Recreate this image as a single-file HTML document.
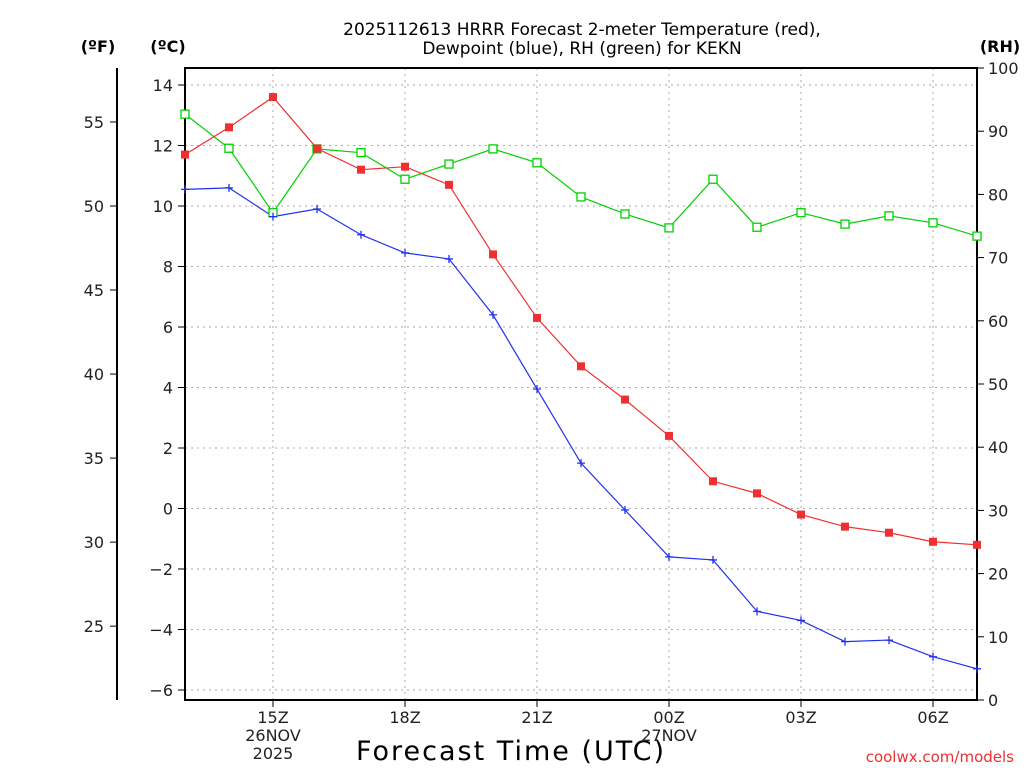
<!DOCTYPE html>
<html><head><meta charset="utf-8"><style>
html,body{margin:0;padding:0;background:#fff;width:1024px;height:768px;overflow:hidden}
svg{display:block;font-family:"DejaVu Sans","Liberation Sans",sans-serif}
</style></head><body>
<svg id="chart" width="1024" height="768">
<g>
<text x="582" y="35" text-anchor="middle" font-size="17">2025112613 HRRR Forecast 2-meter Temperature (red),</text>
<text x="582" y="54" text-anchor="middle" font-size="17">Dewpoint (blue), RH (green) for KEKN</text>
</g>
<text x="98" y="52" text-anchor="middle" font-size="16" font-weight="bold">(ºF)</text>
<text x="168" y="52" text-anchor="middle" font-size="16" font-weight="bold">(ºC)</text>
<text x="1000" y="52" text-anchor="middle" font-size="16" font-weight="bold">(RH)</text>
<text x="511" y="760" text-anchor="middle" font-size="27" letter-spacing="2">Forecast Time (UTC)</text>
<text x="1014" y="762" text-anchor="end" font-size="15" fill="#f03030">coolwx.com/models</text>
<g id="grid"></g><g id="axes"></g><g id="series"></g>
</svg>
<script>
const hours=[13,14,15,16,17,18,19,20,21,22,23,24,25,26,27,28,29,30,31];
const tempC=[11.7,12.6,13.6,11.9,11.2,11.3,10.7,8.4,6.3,4.7,3.6,2.4,0.9,0.5,-0.2,-0.6,-0.8,-1.1,-1.2];
const dewC=[10.55,10.6,9.65,9.9,9.05,8.45,8.25,6.4,3.95,1.5,-0.05,-1.6,-1.7,-3.4,-3.7,-4.4,-4.35,-4.9,-5.3];
const rh=[92.7,87.3,77.1,87.2,86.6,82.4,84.8,87.2,85.0,79.6,76.9,74.7,82.4,74.8,77.1,75.3,76.6,75.5,73.4];
const cTicks=[14,12,10,8,6,4,2,0,-2,-4,-6];
const fTicks=[55,50,45,40,35,30,25];
const rhTicks=[100,90,80,70,60,50,40,30,20,10,0];
const xTickHours=[15,18,21,24,27,30];
const xTickLabels=["15Z","18Z","21Z","00Z","03Z","06Z"];
const L=185,R=977,T=68,B=700;
const X=h=>L+(h-13)*(R-L)/18;
const YC=c=>508.5-c*30.25;
const YR=r=>B-r*(B-T)/100;
const NS='http://www.w3.org/2000/svg';
function mk(tag,at,parent,txt){const e=document.createElementNS(NS,tag);for(const k in at)e.setAttribute(k,at[k]);if(txt!==undefined)e.textContent=txt;parent.appendChild(e);return e;}
const grid=document.getElementById('grid'),axes=document.getElementById('axes'),ser=document.getElementById('series');
cTicks.forEach(c=>{const y=YC(c);
const g=mk('line',{x1:L,x2:R,y1:y,y2:y,stroke:'#aaa','stroke-dasharray':'2,4'},grid);


mk('line',{x1:L-7,x2:L,y1:y,y2:y,stroke:'#000'},axes);
const t=mk('text',{x:L-12,y:y+6,'text-anchor':'end','font-size':16,fill:'#222'},axes,c<0?'\u2212'+(-c):c);

});
xTickHours.forEach((h,i)=>{const x=X(h);
const g=mk('line',{x1:x,x2:x,y1:T,y2:B,stroke:'#aaa','stroke-dasharray':'2,4'},grid);


mk('line',{x1:x,x2:x,y1:B,y2:B+7,stroke:'#000'},axes);
const t=mk('text',{x:x,y:B+23,'text-anchor':'middle','font-size':16,fill:'#222'},axes,xTickLabels[i]);

});
mk('text',{x:X(15),y:B+41,'text-anchor':'middle','font-size':16,fill:'#222'},axes,'26NOV');
mk('text',{x:X(15),y:B+59,'text-anchor':'middle','font-size':16,fill:'#222'},axes,'2025');
mk('text',{x:X(24),y:B+41,'text-anchor':'middle','font-size':16,fill:'#222'},axes,'27NOV');
fTicks.forEach(f=>{const y=YC((f-32)*5/9);
mk('line',{x1:110,x2:117,y1:y,y2:y,stroke:'#000'},axes);
const t=mk('text',{x:104,y:y+6,'text-anchor':'end','font-size':16,fill:'#222'},axes,f);

});
mk('line',{x1:117,x2:117,y1:T,y2:B,stroke:'#000','stroke-width':2},axes);
rhTicks.forEach(r=>{const y=YR(r);
mk('line',{x1:R,x2:R+7,y1:y,y2:y,stroke:'#000'},axes);
const t=mk('text',{x:R+11,y:y+6,'font-size':16,fill:'#222'},axes,r);

});
mk('rect',{x:L,y:T,width:R-L,height:B-T,fill:'none',stroke:'#000','stroke-width':2},axes);
function line(vals,yf,col,name){const p=mk('polyline',{points:vals.map((v,i)=>X(hours[i])+','+yf(v)).join(' '),fill:'none',stroke:col,'stroke-width':1.2},ser);

}
line(rh,YR,'#00d000','rh');line(tempC,YC,'#f03030','temperature');line(dewC,YC,'#2030f0','dewpoint');
rh.forEach((v,i)=>{const m=mk('rect',{x:X(hours[i])-4,y:YR(v)-4,width:8,height:8,fill:'#fff',stroke:'#00d000','stroke-width':1.3},ser);

});
tempC.forEach((v,i)=>{const m=mk('rect',{x:X(hours[i])-4,y:YC(v)-4,width:8,height:8,fill:'#f03030'},ser);

});
dewC.forEach((v,i)=>{const x=X(hours[i]),y=YC(v);
const m=mk('path',{d:`M${x-4},${y}H${x+4}M${x},${y-4}V${y+4}`,stroke:'#2030f0','stroke-width':1.3},ser);

});
</script>
</body></html>
